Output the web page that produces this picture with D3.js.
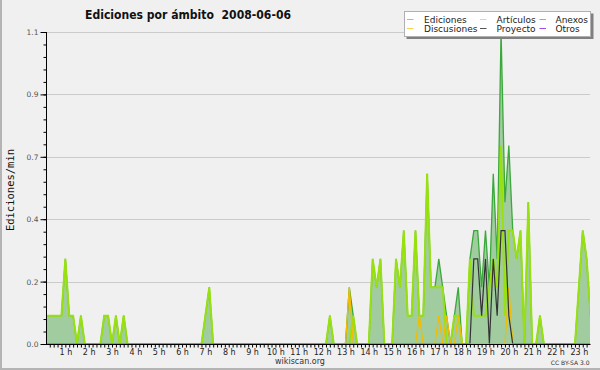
<!DOCTYPE html>
<html>
<head>
<meta charset="utf-8">
<script src="https://cdn.jsdelivr.net/npm/d3@7"></script>
<style>
  html, body { margin: 0; padding: 0; background: #f0f0f0; }
  svg { display: block; font-family: "DejaVu Sans", sans-serif; }
</style>
</head>
<body>
<div id="chart"></div>
<script>
// edits per minute, one value per 10 minutes (00:00 .. 23:50)
var ediciones = [
  0.1,0.1,0.1,0.1,0.1,0.1, 0.3,0.1,0.1,0,0.1,0,
  0,0,0,0,0.1,0.1, 0,0.1,0,0.1,0,0,
  0,0,0,0,0,0, 0,0,0,0,0,0,
  0,0,0,0,0,0, 0.1,0.2,0,0,0,0,
  0,0,0,0,0,0, 0,0,0,0,0,0,
  0,0,0,0,0,0, 0,0,0,0,0,0,
  0,0,0.1,0,0,0, 0,0.2,0.1,0,0,0,
  0,0.3,0.2,0.3,0,0, 0,0.3,0.2,0.4,0.1,0.1,
  0.4,0.1,0.1,0.6,0.2,0.2, 0.3,0.2,0.1,0,0.1,0.2,
  0,0,0.3,0.4,0.4,0.2, 0.4,0.2,0.6,0.3,1.1,0.5,
  0.7,0.4,0.3,0.4,0,0.5, 0,0,0.1,0,0,0,
  0,0,0,0,0,0, 0.2,0.4,0.3,0.1,0,0
];
var articulos = [
  0.1,0.1,0.1,0.1,0.1,0.1, 0.3,0.1,0.1,0,0.1,0,
  0,0,0,0,0.1,0.1, 0,0.1,0,0.1,0,0,
  0,0,0,0,0,0, 0,0,0,0,0,0,
  0,0,0,0,0,0, 0.1,0.2,0,0,0,0,
  0,0,0,0,0,0, 0,0,0,0,0,0,
  0,0,0,0,0,0, 0,0,0,0,0,0,
  0,0,0.1,0,0,0, 0,0,0.1,0,0,0,
  0,0.3,0.2,0.3,0,0, 0,0.3,0.2,0.4,0.1,0.1,
  0.4,0.1,0.1,0.6,0.2,0.2, 0.2,0.2,0,0,0.1,0.1,
  0,0,0.3,0.1,0.1,0.1, 0.1,0.2,0.3,0.2,0.7,0.1,
  0.4,0.4,0.3,0.4,0,0.5, 0,0,0.1,0,0,0,
  0,0,0,0,0,0, 0.2,0.4,0.3,0.1,0,0
];
var discusiones = [
  0,0,0,0,0,0, 0,0,0,0,0,0,
  0,0,0,0,0,0, 0,0,0,0,0,0,
  0,0,0,0,0,0, 0,0,0,0,0,0,
  0,0,0,0,0,0, 0,0,0,0,0,0,
  0,0,0,0,0,0, 0,0,0,0,0,0,
  0,0,0,0,0,0, 0,0,0,0,0,0,
  0,0,0,0,0,0, 0,0.2,0,0,0,0,
  0,0,0,0,0,0, 0,0,0,0,0,0,
  0,0.1,0,0,0,0, 0.1,0,0.1,0,0,0.1,
  0,0,0,0,0,0, 0,0,0,0,0,0,
  0.2,0,0,0,0,0, 0,0,0,0,0,0,
  0,0,0,0,0,0, 0,0,0,0,0,0
];
var proyecto = [
  0,0,0,0,0,0, 0,0,0,0,0,0,
  0,0,0,0,0,0, 0,0,0,0,0,0,
  0,0,0,0,0,0, 0,0,0,0,0,0,
  0,0,0,0,0,0, 0,0,0,0,0,0,
  0,0,0,0,0,0, 0,0,0,0,0,0,
  0,0,0,0,0,0, 0,0,0,0,0,0,
  0,0,0,0,0,0, 0,0,0,0,0,0,
  0,0,0,0,0,0, 0,0,0,0,0,0,
  0,0,0,0,0,0, 0,0,0,0,0,0,
  0,0,0,0.3,0.3,0.1, 0.3,0,0.3,0.1,0.4,0.4,
  0.1,0,0,0,0,0, 0,0,0,0,0,0,
  0,0,0,0,0,0, 0,0,0,0,0,0
];
var anexos = [
  0,0,0,0,0,0, 0,0,0,0,0,0,  0,0,0,0,0,0, 0,0,0,0,0,0,
  0,0,0,0,0,0, 0,0,0,0,0,0,  0,0,0,0,0,0, 0,0,0,0,0,0,
  0,0,0,0,0,0, 0,0,0,0,0,0,  0,0,0,0,0,0, 0,0,0,0,0,0,
  0,0,0,0,0,0, 0,0,0,0,0,0,  0,0,0,0,0,0, 0,0,0,0,0,0,
  0,0,0,0,0,0, 0,0,0,0,0,0,  0,0,0,0,0,0, 0,0,0,0,0,0,
  0,0,0,0,0,0, 0,0,0,0,0,0,  0,0,0,0,0,0, 0,0,0,0,0,0
];
var otros = [
  0,0,0,0,0,0, 0,0,0,0,0,0,  0,0,0,0,0,0, 0,0,0,0,0,0,
  0,0,0,0,0,0, 0,0,0,0,0,0,  0,0,0,0,0,0, 0,0,0,0,0,0,
  0,0,0,0,0,0, 0,0,0,0,0,0,  0,0,0,0,0,0, 0,0,0,0,0,0,
  0,0,0,0,0,0, 0,0,0,0,0,0,  0,0,0,0,0,0, 0,0,0,0,0,0,
  0,0,0,0,0,0, 0,0,0,0,0,0,  0,0,0,0,0,0, 0,0,0,0,0,0,
  0,0,0,0,0,0, 0,0,0,0,0,0,  0,0,0,0,0,0, 0,0,0,0,0,0
];

var hourLabels = ["1 h","2 h","3 h","4 h","5 h","6 h","7 h","8 h","9 h","10 h","11 h","12 h",
                  "13 h","14 h","15 h","16 h","17 h","18 h","19 h","20 h","21 h","22 h","23 h"];
var yTicks = [0, 0.22, 0.44, 0.66, 0.88, 1.1];
var yTickLabels = ["0.0","0.2","0.4","0.7","0.9","1.1"];
var legendNames = ["Ediciones","Artículos","Anexos","Discusiones","Proyecto","Otros"];

var colors = {
  ediciones: "#3aa83a",
  fill: "#a0cca0",
  articulos: "#98e010",
  discusiones: "#f2bd00",
  proyecto: "#333333",
  anexos: "#f07a3a",
  otros: "#9040e0"
};
var legendColors = ["#8cd08c", "#c6ee66", "#f09060", "#f8d048", "#555555", "#9850e8"];

var plotL = 47, plotR = 590, plotT = 32, plotB = 344;

var x = d3.scaleLinear().domain([0, 1440]).range([42, 602.2]);
var y = d3.scaleLinear().domain([0, 1.1]).range([plotB, plotT]);

var svg = d3.select("#chart").append("svg")
  .attr("width", 600)
  .attr("height", 370);

svg.append("rect").attr("width", 600).attr("height", 370).attr("fill", "#f0f0f0");
// frame
svg.append("rect").attr("x", 0).attr("y", 0).attr("width", 2).attr("height", 370).attr("fill", "#b4b4b4");
svg.append("rect").attr("x", 0).attr("y", 368).attr("width", 600).attr("height", 2).attr("fill", "#b4b4b4");

svg.append("defs").append("clipPath").attr("id", "plotclip")
  .append("rect").attr("x", plotL).attr("y", 0).attr("width", plotR - plotL).attr("height", plotB - 0.5);

// grid
svg.append("g").selectAll("line")
  .data(yTicks.slice(1))
  .enter().append("line")
  .attr("x1", plotL).attr("x2", plotR)
  .attr("y1", function(d) { return Math.round(y(d)) + 0.5; })
  .attr("y2", function(d) { return Math.round(y(d)) + 0.5; })
  .attr("stroke", "#cbcbcb");

var plot = svg.append("g").attr("clip-path", "url(#plotclip)");

function pts(arr) {
  return arr.map(function(v, i) { return { t: i * 10, v: v }; });
}

var area = d3.area()
  .x(function(d) { return x(d.t); })
  .y0(y(0))
  .y1(function(d) { return y(d.v); });
var line = d3.line()
  .x(function(d) { return x(d.t); })
  .y(function(d) { return y(d.v); });

plot.append("path").datum(pts(ediciones))
  .attr("d", area).attr("fill", colors.fill);

var series = [
  { data: otros, color: colors.otros, w: 1.2 },
  { data: anexos, color: colors.anexos, w: 1.2 },
  { data: ediciones, color: colors.ediciones, w: 1.3 },
  { data: articulos, color: colors.articulos, w: 2 },
  { data: discusiones, color: colors.discusiones, w: 1.3 },
  { data: proyecto, color: colors.proyecto, w: 1.2 }
];
series.forEach(function(s) {
  plot.append("path").datum(pts(s.data))
    .attr("d", line)
    .attr("fill", "none")
    .attr("stroke", s.color)
    .attr("stroke-width", s.w)
    .attr("stroke-linejoin", "miter");
});

// x axis
var minorT = d3.range(20, 1410, 10);
var xMinor = d3.axisBottom(x).tickValues(minorT).tickSize(3).tickFormat("");
var gx = svg.append("g").attr("transform", "translate(0," + (plotB + 0.5) + ")").call(xMinor);
gx.select(".domain").remove();
gx.selectAll("line").attr("stroke", "#000");

var hourT = hourLabels.map(function(d, i) { return (i + 1) * 60; });
var xHours = d3.axisBottom(x).tickValues(hourT).tickSize(0)
  .tickFormat(function(d, i) { return hourLabels[i]; });
var gh = svg.append("g").attr("transform", "translate(0," + (plotB + 0.5) + ")").call(xHours);
gh.select(".domain").remove();
gh.selectAll("text")
  .attr("y", 5).attr("dy", "0.71em")
  .style("font-family", "DejaVu Sans").style("font-size", "8px").attr("fill", "#222");

svg.append("line").attr("x1", plotL).attr("x2", plotR + 0.5)
  .attr("y1", plotB + 0.5).attr("y2", plotB + 0.5).attr("stroke", "#000");

// y axis
var yMinor = d3.axisLeft(y).tickValues(d3.range(0, 1.1001, 0.044)).tickSize(3).tickFormat("");
var gym = svg.append("g").attr("transform", "translate(" + (plotL - 0.5) + ",0)").call(yMinor);
gym.select(".domain").remove();
gym.selectAll("line").attr("stroke", "#000");

var yMajor = d3.axisLeft(y).tickValues(yTicks).tickSize(6)
  .tickFormat(function(d, i) { return yTickLabels[i]; });
var gy = svg.append("g").attr("transform", "translate(" + (plotL - 0.5) + ",0)").call(yMajor);
gy.select(".domain").remove();
gy.selectAll("line").attr("stroke", "#000");
gy.selectAll("text").attr("x", -8)
  .style("font-family", "DejaVu Sans").style("font-size", "7.5px").attr("fill", "#555");

svg.append("line").attr("x1", plotL - 0.5).attr("x2", plotL - 0.5)
  .attr("y1", plotT).attr("y2", plotB + 1).attr("stroke", "#000");

// labels
svg.append("text")
  .attr("transform", "translate(14,190) rotate(-90)")
  .attr("text-anchor", "middle")
  .style("font-family", "DejaVu Sans Mono").style("font-size", "10.5px")
  .attr("fill", "#111")
  .text("Ediciones/min");

svg.append("text")
  .attr("x", 85).attr("y", 18.5)
  .attr("textLength", 206).attr("lengthAdjust", "spacingAndGlyphs")
  .style("white-space", "pre")
  .style("font-family", "DejaVu Sans").style("font-weight", "bold").style("font-size", "13px")
  .attr("fill", "#111")
  .text("Ediciones por ámbito  2008-06-06");

svg.append("text")
  .attr("x", 300).attr("y", 364)
  .attr("text-anchor", "middle")
  .style("font-size", "8px").attr("fill", "#333")
  .text("wikiscan.org");

svg.append("text")
  .attr("x", 589.5).attr("y", 364.5)
  .attr("text-anchor", "end")
  .style("font-size", "6px").attr("fill", "#333")
  .text("CC BY-SA 3.0");

// legend
var lg = svg.append("g");
lg.append("rect").attr("x", 406.5).attr("y", 13.5).attr("width", 187).attr("height", 25.5).attr("fill", "#808080");
lg.append("rect").attr("x", 404.5).attr("y", 11.5).attr("width", 186).attr("height", 25)
  .attr("fill", "#fff").attr("stroke", "#b0b0b0");
var colX = [407, 480, 539.5];
var textX = [424, 496.5, 555.5];
var rowY = [19.5, 28.5];
legendNames.forEach(function(name, i) {
  var c = i % 3, r = Math.floor(i / 3);
  lg.append("line")
    .attr("x1", colX[c]).attr("x2", colX[c] + 6.5)
    .attr("y1", rowY[r]).attr("y2", rowY[r])
    .attr("stroke", legendColors[i]);
  lg.append("text")
    .attr("x", textX[c]).attr("y", rowY[r] + 3.3)
    .style("font-size", "9px").attr("fill", "#222")
    .text(name);
});
</script>
</body>
</html>
